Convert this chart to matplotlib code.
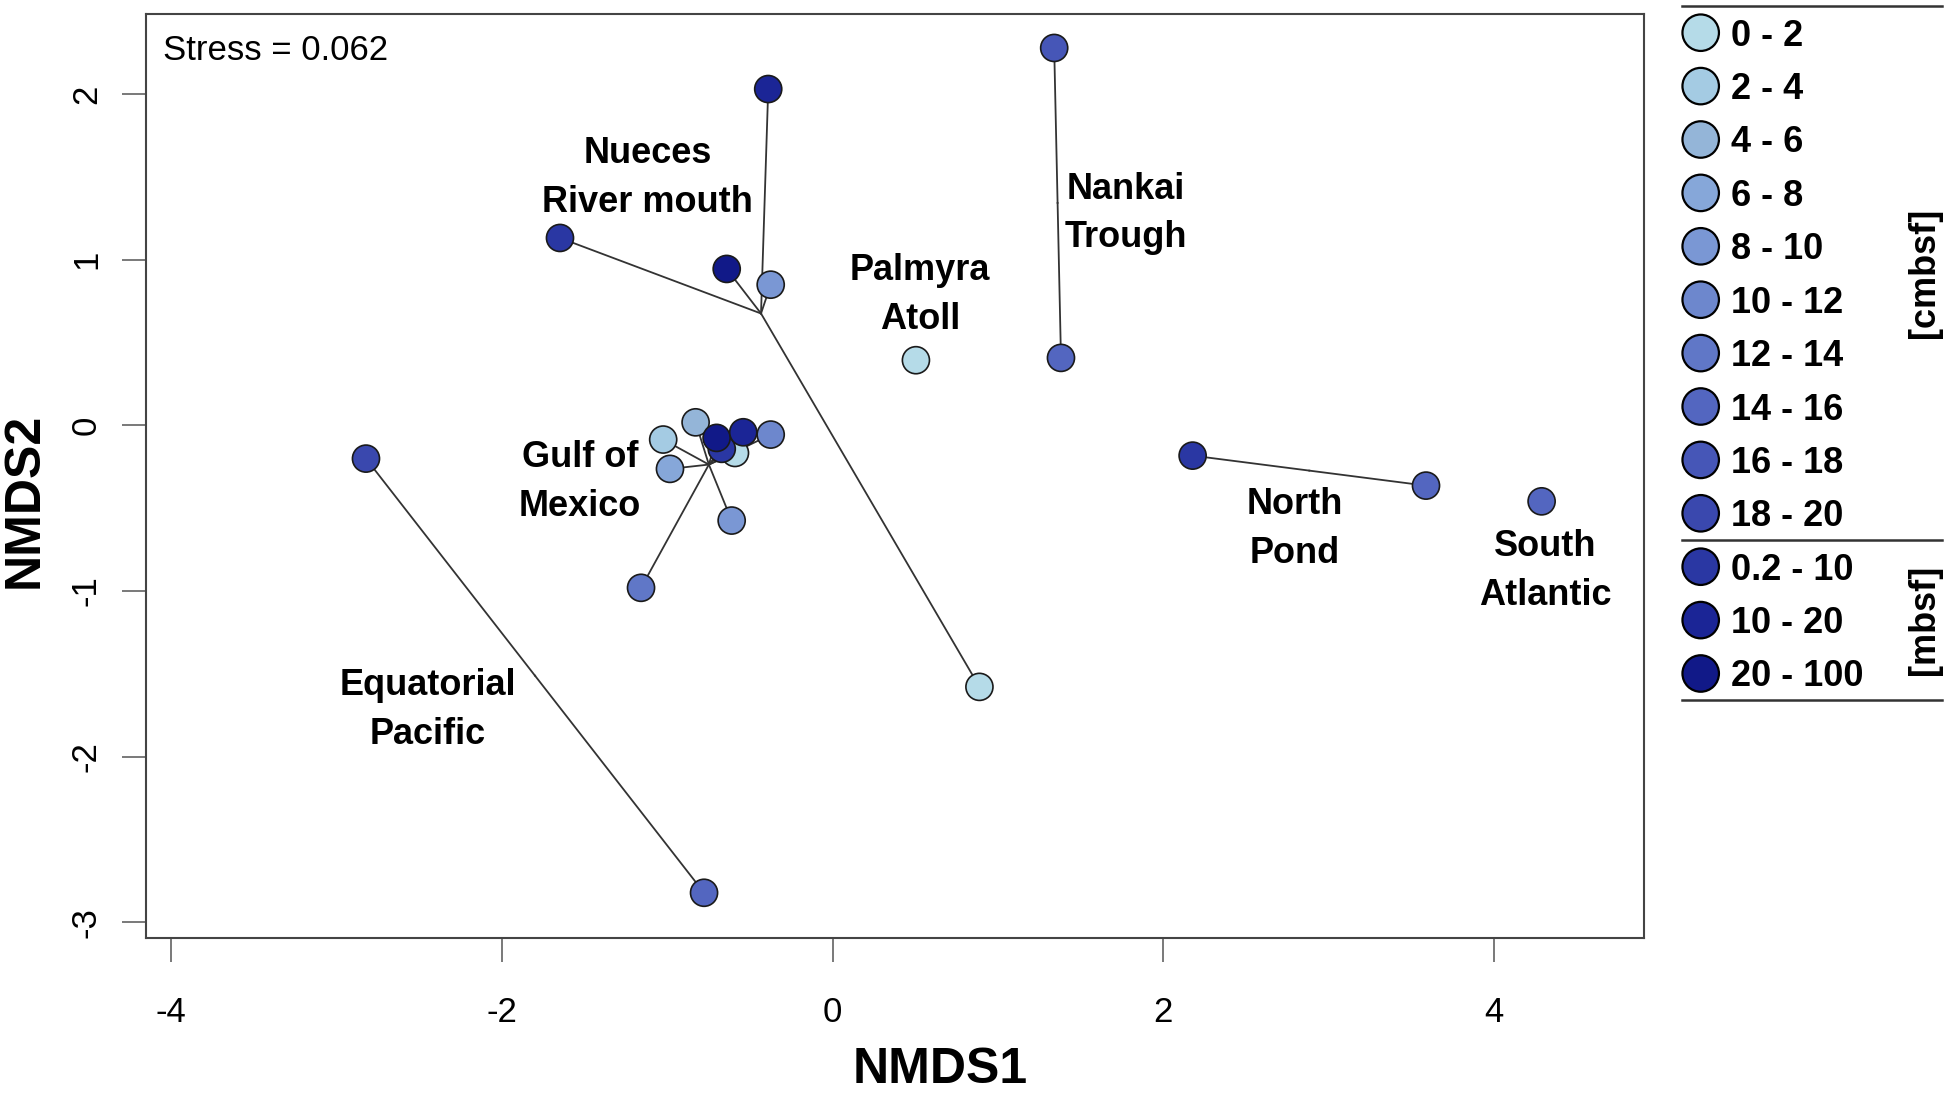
import matplotlib.pyplot as plt
import numpy as np

plt.rcParams['font.family'] = ['Liberation Sans', 'DejaVu Sans']
plt.rcParams['axes.unicode_minus'] = False

W, H = 1949, 1095

# depth classes shown in the legend
depth_labels = ["0 - 2", "2 - 4", "4 - 6", "6 - 8", "8 - 10", "10 - 12", "12 - 14",
                "14 - 16", "16 - 18", "18 - 20", "0.2 - 10", "10 - 20", "20 - 100"]
depth_colors = ["#b5dbe8", "#a4cbe3", "#94b5d8", "#86a7d9", "#7a97d4", "#6d87cd",
                "#6077c7", "#5366c0", "#4656b7", "#3a48ae", "#2a37a3", "#1b2596", "#111988"]

# NMDS scores per sample
site = (["Equatorial Pacific"] * 2 + ["Nankai Trough"] * 2 + ["North Pond"] * 2
        + ["South Atlantic"] + ["Palmyra Atoll"] + ["Nueces River mouth"] * 5
        + ["Gulf of Mexico"] * 10)
nmds1 = [-2.821, -0.777,
         1.340, 1.381,
         2.177, 3.588,
         4.287,
         0.504,
         -0.389, -1.648, -0.640, -0.374, 0.888,
         -1.024, -0.828, -0.983, -0.590, -0.670, -0.701, -0.540, -0.374, -0.610, -1.158]
nmds2 = [-0.201, -2.822,
         2.278, 0.407,
         -0.183, -0.364,
         -0.459,
         0.393,
         2.030, 1.131, 0.944, 0.849, -1.579,
         -0.086, 0.018, -0.263, -0.167, -0.142, -0.076, -0.042, -0.056, -0.575, -0.981]
depth_class = [9, 7,
               8, 7,
               10, 7,
               7,
               0,
               11, 10, 12, 4, 0,
               1, 2, 3, 0, 10, 12, 11, 5, 4, 6]

stress = 0.062

# where the site names sit (data coords)
label_pos = {
    "Nueces\nRiver mouth": (-1.119, 1.493),
    "Nankai\nTrough": (1.774, 1.28),
    "Palmyra\nAtoll": (0.528, 0.787),
    "Gulf of\nMexico": (-1.527, -0.342),
    "North\nPond": (2.796, -0.625),
    "South\nAtlantic": (4.307, -0.879),
    "Equatorial\nPacific": (-2.446, -1.718),
}

x = np.array(nmds1)
y = np.array(nmds2)
sites = np.array(site)

fig = plt.figure(figsize=(W / 100, H / 100), dpi=100)
ax = fig.add_axes([146 / W, 1 - 938 / H, (1644 - 146) / W, (938 - 14) / H])

# spider lines to group centroids
for s in dict.fromkeys(site):
    m = sites == s
    if m.sum() < 2:
        continue
    cx, cy = x[m].mean(), y[m].mean()
    for xi, yi in zip(x[m], y[m]):
        ax.plot([cx, xi], [cy, yi], color="#333333", lw=1.3, zorder=2)

ax.scatter(x, y, s=380, c=[depth_colors[k] for k in depth_class],
           edgecolors="#1a1a1a", linewidths=1.2, zorder=3)

for txt, (lx, ly) in label_pos.items():
    ax.text(lx, ly, txt, ha="center", va="center", multialignment="center",
            fontsize=26, fontweight="bold", linespacing=1.5)

ax.set_xlim(-4.151, 4.906)
ax.set_ylim(-3.095, 2.483)
ax.set_xticks([-4, -2, 0, 2, 4])
ax.set_yticks([-3, -2, -1, 0, 1, 2])
ax.tick_params(axis="both", length=17, width=1.1, color="#555555", labelsize=25)
ax.tick_params(axis="x", pad=25)
ax.tick_params(axis="y", pad=14, labelrotation=90)
for lab in ax.get_yticklabels():
    lab.set_va("center")
for sp in ax.spines.values():
    sp.set_color("#444444")
    sp.set_linewidth(1.5)

fig.text(163 / W, 1 - 60 / H, "Stress = %.3f" % stress, fontsize=25, va="baseline")
fig.text(940 / W, 1 - 1070 / H, "NMDS1", fontsize=36, fontweight="bold",
         ha="center", va="center")
fig.text(25 / W, 1 - 500 / H, "NMDS2", fontsize=36, fontweight="bold",
         ha="center", va="center", rotation=90)

# legend drawn by hand on an overlay in pixel units
lax = fig.add_axes([0, 0, 1, 1])
lax.set_xlim(0, W)
lax.set_ylim(H, 0)
lax.axis("off")
rows = 32.7 + 53.4 * np.arange(len(depth_labels))
lax.scatter(np.full(len(rows), 1700.7), rows, s=690, c=depth_colors,
            edgecolors="black", linewidths=1.6, clip_on=False)
for r, lab in zip(rows, depth_labels):
    lax.text(1731, r + 13, lab, fontsize=26, fontweight="bold", va="baseline")
for ly in [6, (rows[9] + rows[10]) / 2, 700]:
    lax.plot([1682, 1942], [ly, ly], color="#333333", lw=1.8)
lax.text(1925, rows[:10].mean(), "[cmbsf]", fontsize=26, fontweight="bold",
         rotation=90, ha="center", va="center")
lax.text(1925, rows[10:].mean(), "[mbsf]", fontsize=26, fontweight="bold",
         rotation=90, ha="center", va="center")

fig.savefig("out.png", dpi=100)
